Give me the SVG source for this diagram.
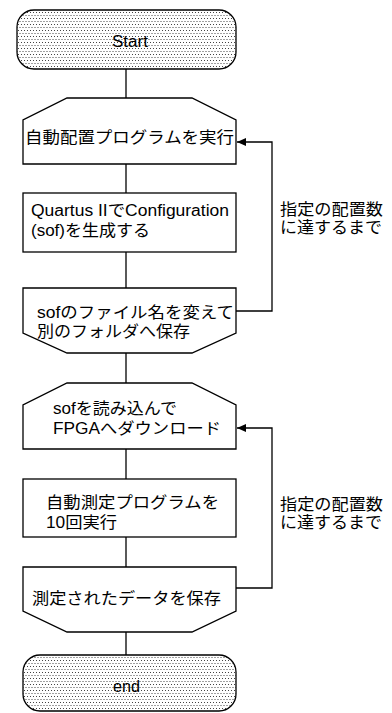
<svg xmlns="http://www.w3.org/2000/svg" width="392" height="713" viewBox="0 0 392 713">
<style>
.shape{fill:#fff;stroke:#000;stroke-width:1.3}
.term{fill:url(#dots);stroke:#000;stroke-width:1.3}
.line{fill:none;stroke:#000;stroke-width:1.3}
.t{font-family:"Liberation Sans","Noto Sans CJK JP",sans-serif;font-size:16px;fill:#000}
.tl{font-family:"Liberation Sans",Arial,sans-serif;font-size:16px;fill:#000}
</style>
<defs>
<pattern id="dots" width="6" height="6" patternUnits="userSpaceOnUse">
<rect width="6" height="6" fill="#fff"/>
<rect x="0" y="0" width="1" height="1" fill="#444"/>
<rect x="3" y="0" width="1" height="1" fill="#444"/>
<rect x="1.5" y="3" width="1" height="1" fill="#444"/>
<rect x="4.5" y="3" width="1" height="1" fill="#444"/>
</pattern>
<marker id="arr" markerWidth="10" markerHeight="8" refX="9" refY="4" orient="auto" markerUnits="userSpaceOnUse">
<path d="M0,0 L9,4 L0,8 Z" fill="#000"/>
</marker>
</defs>
<g id="connectors">
<line class="line" x1="126" y1="69" x2="126" y2="98"/>
<line class="line" x1="126" y1="164" x2="126" y2="193"/>
<line class="line" x1="126" y1="252" x2="126" y2="288"/>
<line class="line" x1="126" y1="353" x2="126" y2="383"/>
<line class="line" x1="126" y1="449" x2="126" y2="479"/>
<line class="line" x1="126" y1="537" x2="126" y2="567"/>
<line class="line" x1="126" y1="632" x2="126" y2="655"/>
<path class="line" d="M236,311 H272 V142 H237" marker-end="url(#arr)"/>
<path class="line" d="M236,588 H272 V428 H237" marker-end="url(#arr)"/>
</g>
<g id="start">
<rect class="term" x="17" y="10" width="219" height="59" rx="17" ry="17"/>
<text class="tl" x="112" y="47" textLength="36" lengthAdjust="spacingAndGlyphs">Start</text>
</g>
<g id="n1">
<path class="shape" d="M67,98 H192 L236,120 V164 H23 V120 Z"/>
<text class="t" x="25" y="143" textLength="209" lengthAdjust="spacingAndGlyphs">自動配置プログラムを実行</text>
</g>
<g id="n2">
<rect class="shape" x="23" y="193" width="213" height="59"/>
<text class="t" x="31" y="216" textLength="198" lengthAdjust="spacingAndGlyphs">Quartus IIでConfiguration</text>
<text class="t" x="31" y="236" textLength="119" lengthAdjust="spacingAndGlyphs">(sof)を生成する</text>
</g>
<g id="n3">
<path class="shape" d="M23,288 H236 V333 L192,353 H67 L23,333 Z"/>
<text class="t" x="37" y="318" textLength="197" lengthAdjust="spacingAndGlyphs">sofのファイル名を変えて</text>
<text class="t" x="37" y="337" textLength="153" lengthAdjust="spacingAndGlyphs">別のフォルダへ保存</text>
</g>
<g id="n4">
<path class="shape" d="M67,383 H192 L236,405 V449 H23 V405 Z"/>
<text class="t" x="53" y="414" textLength="124" lengthAdjust="spacingAndGlyphs">sofを読み込んで</text>
<text class="t" x="53" y="434" textLength="168" lengthAdjust="spacingAndGlyphs">FPGAへダウンロード</text>
</g>
<g id="n5">
<rect class="shape" x="23" y="479" width="213" height="58"/>
<text class="t" x="46" y="508" textLength="173" lengthAdjust="spacingAndGlyphs">自動測定プログラムを</text>
<text class="t" x="46" y="528" textLength="71" lengthAdjust="spacingAndGlyphs">10回実行</text>
</g>
<g id="n6">
<path class="shape" d="M23,567 H236 V611 L192,632 H67 L23,611 Z"/>
<text class="t" x="32" y="604" textLength="189" lengthAdjust="spacingAndGlyphs">測定されたデータを保存</text>
</g>
<g id="end">
<rect class="term" x="23" y="655" width="213" height="56" rx="17" ry="17"/>
<text class="tl" x="113" y="692" textLength="27" lengthAdjust="spacingAndGlyphs">end</text>
</g>
<g id="label1">
<text class="t" x="280" y="215" textLength="103" lengthAdjust="spacingAndGlyphs">指定の配置数</text>
<text class="t" x="280" y="233" textLength="102" lengthAdjust="spacingAndGlyphs">に達するまで</text>
</g>
<g id="label2">
<text class="t" x="280" y="510" textLength="103" lengthAdjust="spacingAndGlyphs">指定の配置数</text>
<text class="t" x="280" y="528" textLength="102" lengthAdjust="spacingAndGlyphs">に達するまで</text>
</g>
</svg>
